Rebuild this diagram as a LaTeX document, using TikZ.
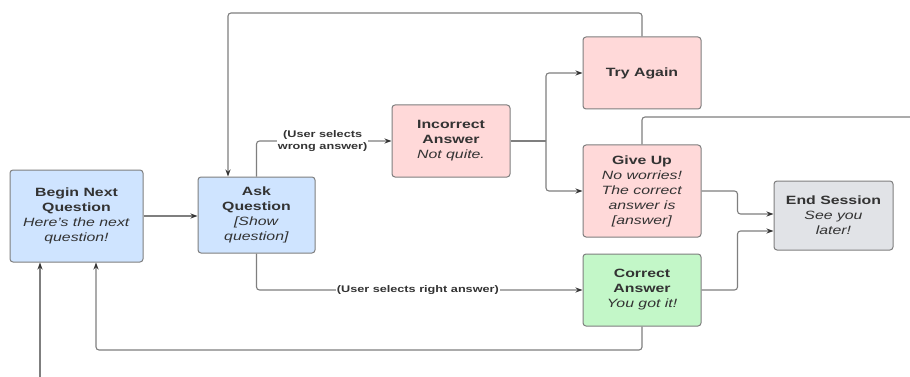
\documentclass[tikz,border=0pt]{standalone}
\usepackage{fontspec}
\setmainfont{Liberation Sans}[FakeStretch=1.32]
\usetikzlibrary{arrows.meta}
\definecolor{bluef}{HTML}{CFE4FF}
\definecolor{pinkf}{HTML}{FFD9D9}
\definecolor{greenf}{HTML}{C3F7C8}
\definecolor{grayf}{HTML}{E1E3E7}
\definecolor{edge}{HTML}{7F7F7F}
\definecolor{txt}{HTML}{333333}
\tikzset{
  box/.style={draw=edge, line width=1pt, rounded corners=3pt, align=center, inner sep=2pt,
    text=txt, font=\fontsize{12}{15}\selectfont},
  conn/.style={draw=edge, line width=1.1pt, rounded corners=3pt},
  arr/.style={conn, -{Stealth[length=7pt,width=5pt,color=txt]}},
  lbl/.style={fill=white, inner sep=1pt, text=txt, align=center, font=\bfseries\fontsize{9.6}{12.5}\selectfont}
}
\begin{document}
\begin{tikzpicture}[x=1pt,y=-1pt]
\useasboundingbox (0,0) rectangle (910,377);
\fill[white] (0,0) rectangle (910,377);

\node[box, fill=bluef, minimum width=133pt, minimum height=92pt] (begin) at (76.5,216)
  {\textbf{Begin Next}\\\textbf{Question}\\\textit{Here's the next}\\\textit{question!}};
\node[box, fill=bluef, minimum width=117pt, minimum height=76pt] (ask) at (256.5,215)
  {\textbf{Ask}\\\textbf{Question}\\\textit{[Show}\\\textit{question]}};
\node[box, fill=pinkf, minimum width=118pt, minimum height=72pt] (inc) at (451,141)
  {\textbf{Incorrect}\\\textbf{Answer}\\\textit{Not quite.}};
\node[box, fill=pinkf, minimum width=118pt, minimum height=72pt] (try) at (642,73)
  {\textbf{Try Again}};
\node[box, fill=pinkf, minimum width=118pt, minimum height=92pt] (gu) at (642,191)
  {\textbf{Give Up}\\\textit{No worries!}\\\textit{The correct}\\\textit{answer is}\\\textit{[answer]}};
\node[box, fill=grayf, minimum width=119pt, minimum height=69pt] (end) at (833.5,215.5)
  {\textbf{End Session}\\\textit{See you}\\\textit{later!}};
\node[box, fill=greenf, minimum width=118pt, minimum height=72pt] (cor) at (642,290)
  {\textbf{Correct}\\\textbf{Answer}\\\textit{You got it!}};

\coordinate (sp) at (546,141);
\coordinate (top) at (228,13);
\coordinate (gutop) at (910,117);
\coordinate (bot) at (96,350);
\coordinate (entry) at (40,377);

% Begin -> Ask
\draw[arr] (begin.east) -- (begin.east -| ask.west);
% Ask -> Incorrect
\draw[arr] (ask.north) |- (inc.west);
\path (ask.north |- inc.west) -- (inc.west) node[lbl, pos=0.49] {(User selects\\wrong answer)};
% Incorrect -> Try Again / Give Up
\draw[conn] (inc.east) -- (sp);
\draw[arr] (sp) |- (try.west);
\draw[arr] (sp) |- (gu.west);
% Try Again -> Ask
\draw[arr] (try.north) |- (top) -- (top |- ask.north);
% Give Up -> off edge
\draw[conn] (gu.north) |- (gutop);
% Give Up -> End
\draw[arr] (gu.east) -- ++(36,0) |- ([yshift=1.5pt]end.west);
% Correct -> End
\draw[arr] (cor.east) -- ++(36,0) |- ([yshift=-15.5pt]end.west);
% Ask -> Correct
\draw[arr] (ask.south) |- (cor.west);
\path (ask.south |- cor.west) -- (cor.west) node[lbl, pos=0.495] {(User selects right answer)};
% Correct -> Begin
\draw[arr] (cor.south) |- (bot) -- (bot |- begin.south);
% Entry
\draw[arr] (entry) -- (entry |- begin.south);
\end{tikzpicture}
\end{document}
